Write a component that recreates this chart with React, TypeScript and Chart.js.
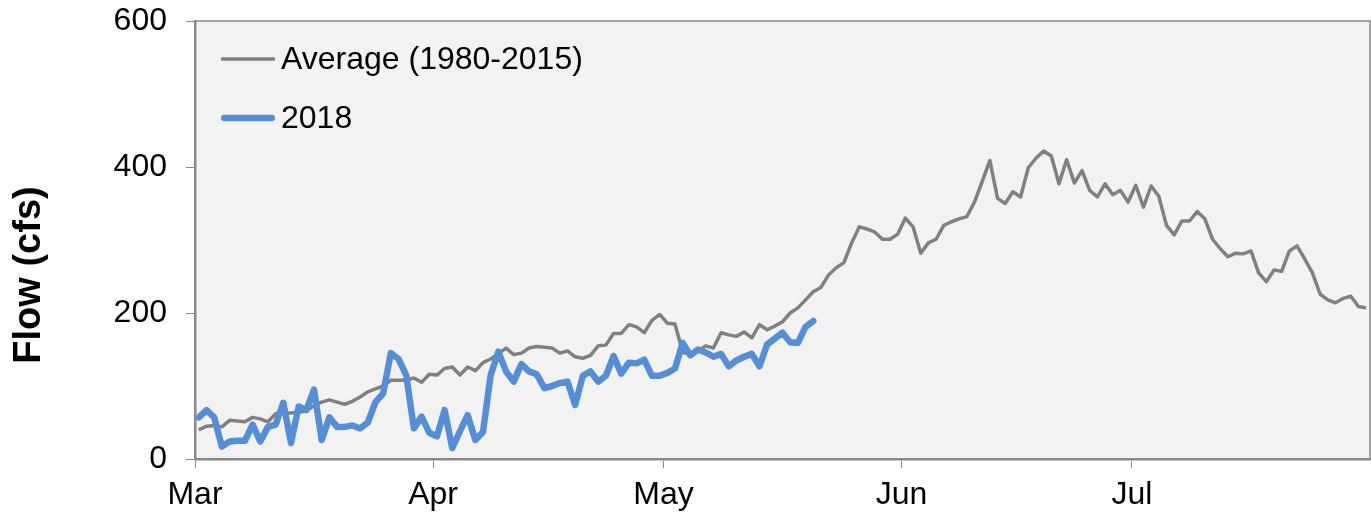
import React, { useEffect, useRef } from 'react';
import { Chart, registerables } from 'chart.js';

Chart.register(...registerables);

// ---- Data ----
const seriesNames = ['Average (1980-2015)', '2018'];
const monthLabels = ['Mar', 'Apr', 'May', 'Jun', 'Jul'];
const monthTickDays = [0, 31, 61, 92, 122]; // days since Mar 1
const axisDays = 153; // Mar 1 .. Aug 1
const yTickStep = 200;
const yMax = 600;

// daily average flow (cfs), Mar 1 .. Jul 31
const averageFlow = [
  40, 45, 46, 44, 53, 52, 51, 57, 55, 51,
  62, 63, 63, 64, 66, 73, 78, 81, 78, 75,
  79, 85, 92, 96, 100, 108, 108, 108, 111, 105,
  116, 115, 124, 126, 115, 126, 121, 132, 137, 144,
  152, 143, 145, 152, 154, 153, 152, 145, 148, 140,
  138, 142, 155, 156, 172, 172, 184, 181, 173, 190,
  198, 186, 185, 146, 143, 148, 155, 152, 173, 170,
  168, 174, 166, 184, 177, 182, 188, 200, 207, 218,
  229, 235, 252, 262, 269, 296, 318, 315, 311, 301,
  301, 308, 330, 318, 282, 296, 301, 320, 325, 329,
  332, 352, 380, 409, 357, 350, 366, 359, 399, 412,
  422, 415, 377, 410, 378, 395, 368, 359, 377, 362,
  368, 352, 375, 345, 374, 360, 320, 307, 326, 326,
  339, 329, 301, 288, 277, 282, 281, 285, 255, 243,
  259, 257, 285, 292, 274, 255, 226, 218, 214, 220,
  223, 209, 207,
];

// daily 2018 flow (cfs), Mar 1 .. May 20
const flow2018 = [
  57, 67, 57, 17, 24, 25, 25, 47, 24, 44,
  47, 77, 22, 72, 67, 95, 26, 57, 44, 44,
  46, 42, 50, 78, 90, 145, 137, 115, 42, 58,
  36, 31, 67, 15, 38, 60, 26, 37, 115, 147,
  120, 106, 130, 120, 116, 97, 100, 104, 106, 74,
  114, 120, 106, 114, 141, 117, 132, 131, 136, 114,
  114, 118, 124, 159, 142, 150, 146, 140, 144, 127,
  135, 140, 144, 127, 157, 165, 173, 160, 159, 181,
  189,
];

const FONT = '"Liberation Sans", Arial, Helvetica, sans-serif';
const AXIS_GRAY = '#898989';

export default function App() {
  const canvasRef = useRef<HTMLCanvasElement>(null);

  useEffect(() => {
    const canvas = canvasRef.current;
    if (!canvas) return;

    const plotBackground = {
      id: 'plotBackground',
      beforeDraw(chart: any) {
        const { ctx, chartArea: a } = chart;
        ctx.save();
        ctx.fillStyle = '#f2f2f2';
        ctx.fillRect(a.left, a.top, a.right - a.left, a.bottom - a.top);
        ctx.strokeStyle = AXIS_GRAY;
        ctx.lineWidth = 1.5;
        ctx.strokeRect(a.left, a.top, a.right - a.left, a.bottom - a.top);
        ctx.restore();
      },
    };

    const insideLegend = {
      id: 'insideLegend',
      afterDatasetsDraw(chart: any) {
        const { ctx, chartArea: a } = chart;
        const rowsY = [a.top + 38, a.top + 97];
        ctx.save();
        chart.data.datasets.forEach((ds: any, i: number) => {
          const y = rowsY[i];
          ctx.beginPath();
          ctx.strokeStyle = ds.borderColor;
          ctx.lineWidth = ds.borderWidth;
          ctx.lineCap = ds.borderCapStyle || 'butt';
          const inset = ds.borderCapStyle === 'round' ? ds.borderWidth / 2 : 0;
          ctx.moveTo(a.left + 26 + inset, y);
          ctx.lineTo(a.left + 80 - inset, y);
          ctx.stroke();
          ctx.fillStyle = '#000';
          ctx.font = `32px ${FONT}`;
          ctx.textAlign = 'left';
          ctx.textBaseline = 'middle';
          ctx.fillText(ds.label, a.left + 86, y + 1);
        });
        ctx.restore();
      },
    };

    const axisTitle = {
      id: 'axisTitle',
      afterDraw(chart: any) {
        const { ctx } = chart;
        ctx.save();
        ctx.translate(30, 275);
        ctx.rotate(-Math.PI / 2);
        ctx.fillStyle = '#000';
        ctx.font = `bold 38px ${FONT}`;
        ctx.textAlign = 'center';
        ctx.textBaseline = 'middle';
        ctx.fillText('Flow (cfs)', 0, 0);
        ctx.restore();
      },
    };

    const chart = new Chart(canvas, {
      type: 'line',
      data: {
        datasets: [
          {
            label: seriesNames[0],
            data: averageFlow.map((v, i) => ({ x: i + 0.5, y: v })),
            borderColor: '#808080',
            backgroundColor: '#808080',
            borderWidth: 3.5,
            borderJoinStyle: 'round',
            borderCapStyle: 'butt',
            pointRadius: 0,
            tension: 0,
            order: 1,
          },
          {
            label: seriesNames[1],
            data: flow2018.map((v, i) => ({ x: i + 0.5, y: v })),
            borderColor: '#558ed5',
            backgroundColor: '#558ed5',
            borderWidth: 6.5,
            borderJoinStyle: 'round',
            borderCapStyle: 'round',
            pointRadius: 0,
            tension: 0,
            order: 0,
          },
        ],
      },
      options: {
        animation: false,
        responsive: false,
        devicePixelRatio: 1,
        layout: { padding: { top: 21, right: 1, left: 0, bottom: 0 } },
        plugins: {
          legend: { display: false },
          tooltip: { enabled: false },
          title: { display: false },
        },
        scales: {
          x: {
            type: 'linear',
            min: 0,
            max: axisDays,
            afterBuildTicks: (scale: any) => {
              scale.ticks = monthTickDays.map((v) => ({ value: v }));
            },
            afterFit: (scale: any) => {
              scale.height = 57;
              scale.paddingLeft = 0;
              scale.paddingRight = 0;
            },
            ticks: {
              autoSkip: false,
              maxRotation: 0,
              minRotation: 0,
              padding: 8,
              color: '#000',
              font: { family: FONT, size: 32 },
              callback: (value: any) => {
                const idx = monthTickDays.indexOf(Number(value));
                return idx >= 0 ? monthLabels[idx] : '';
              },
            },
            grid: {
              drawOnChartArea: false,
              drawTicks: true,
              tickLength: 9,
              color: AXIS_GRAY,
              lineWidth: 1,
            },
            border: { display: true, color: AXIS_GRAY, width: 2.5 },
          },
          y: {
            type: 'linear',
            min: 0,
            max: yMax,
            afterFit: (scale: any) => {
              scale.width = 195;
              scale.paddingTop = 0;
              scale.paddingBottom = 0;
            },
            ticks: {
              stepSize: yTickStep,
              padding: 19,
              color: '#000',
              font: { family: FONT, size: 32 },
            },
            grid: {
              drawOnChartArea: false,
              drawTicks: true,
              tickLength: 9,
              color: AXIS_GRAY,
              lineWidth: 1,
            },
            border: { display: true, color: AXIS_GRAY, width: 2.5 },
          },
        },
      } as any,
      plugins: [plotBackground, insideLegend, axisTitle],
    });

    return () => {
      chart.destroy();
    };
  }, []);

  return (
    <div style={{ position: 'absolute', left: 0, top: 0, width: 1371, height: 516, background: '#fff' }}>
      <canvas ref={canvasRef} width={1371} height={516} style={{ display: 'block' }} />
    </div>
  );
}
